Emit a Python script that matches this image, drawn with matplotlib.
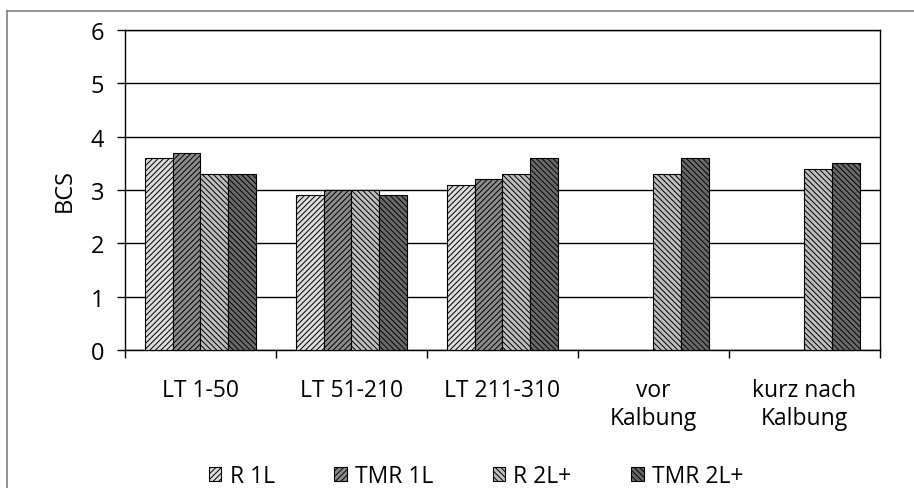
import numpy as np
import matplotlib
matplotlib.use("Agg")
import matplotlib.pyplot as plt
from matplotlib.lines import Line2D

plt.rcParams['font.family'] = ['Open Sans', 'DejaVu Sans']
plt.rcParams['hatch.linewidth'] = 0.7

categories = ["LT 1-50", "LT 51-210", "LT 211-310", "vor\nKalbung", "kurz nach\nKalbung"]
series_names = ["R 1L", "TMR 1L", "R 2L+", "TMR 2L+"]
r_1l = [3.6, 2.9, 3.1, np.nan, np.nan]
tmr_1l = [3.7, 3.0, 3.2, np.nan, np.nan]
r_2l = [3.3, 3.0, 3.3, 3.3, 3.4]
tmr_2l = [3.3, 2.9, 3.6, 3.6, 3.5]
y_ticks = [0, 1, 2, 3, 4, 5, 6]

values = [r_1l, tmr_1l, r_2l, tmr_2l]
colors = ["#dcdcdc", "#8c8c8c", "#bdbdbd", "#6a6a6a"]
hatches = ["//////", "//////", "\\\\\\\\\\\\", "\\\\\\\\\\\\"]

fig = plt.figure(figsize=(9.14, 4.89), dpi=100)
ax = fig.add_axes([125/914, 1-351/489, 755/914, 320/489])

n = len(categories)
x = np.arange(n)
bw = 0.184
for i, (vals, c, h, name) in enumerate(zip(values, colors, hatches, series_names)):
    offs = (i - 1.5) * bw
    ax.bar(x + offs, vals, width=bw, color=c, edgecolor="black", hatch=h,
           linewidth=0.8, label=name, zorder=3)

ax.set_xlim(-0.5, n - 0.5)
ax.set_ylim(0, 6)
ax.set_yticks(y_ticks)
ax.set_yticklabels([str(t) for t in y_ticks], fontsize=17)
ax.yaxis.grid(True, color="black", linewidth=1.0, zorder=0)
ax.set_axisbelow(True)
ax.tick_params(axis='y', length=6, width=1, color="black", pad=9)

ax.set_xticks(x)
ax.set_xticklabels(categories, fontsize=16.5, linespacing=1.25)
ax.tick_params(axis='x', which='major', length=0, pad=20)
ax.set_xticks(np.arange(n + 1) - 0.5, minor=True)
ax.tick_params(axis='x', which='minor', length=6, width=1, color="black", direction="out")

for s in ax.spines.values():
    s.set_color("black")
    s.set_linewidth(1.0)

ax.set_ylabel("BCS", fontsize=17, labelpad=10)

leg = fig.legend(loc="center", bbox_to_anchor=(476/914, 1-477/489), ncol=4,
                 frameon=False, fontsize=16.5, handlelength=0.55, handleheight=0.55,
                 handletextpad=0.35, columnspacing=2.6, borderpad=0.0)

# outer chart frame
fig.add_artist(Line2D([7/914, 1.0], [1-12/489, 1-12/489], color="#808080", linewidth=1.2,
                      transform=fig.transFigure))
fig.add_artist(Line2D([7/914, 7/914], [0.0, 1-12/489], color="#808080", linewidth=1.2,
                      transform=fig.transFigure))

fig.savefig("out.png", dpi=100, facecolor="white")
